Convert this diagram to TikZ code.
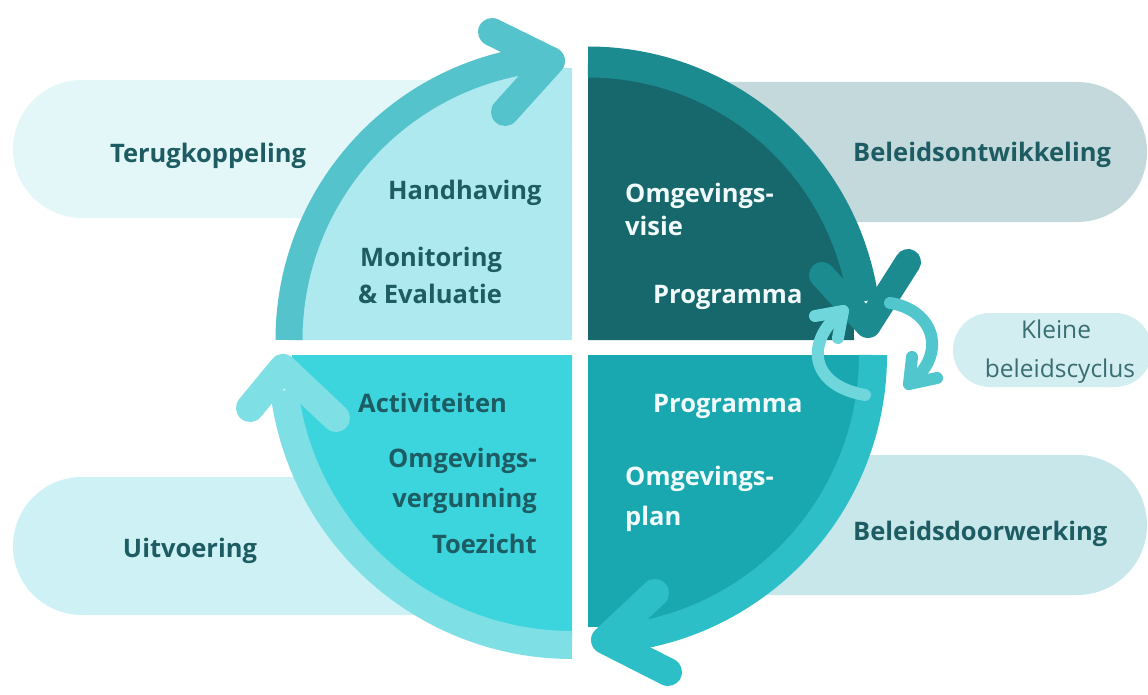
\documentclass[tikz,border=0pt]{standalone}
\usepackage{fontspec}
\setmainfont{Open Sans}
\definecolor{pillA}{HTML}{E3F7F9}
\definecolor{pillB}{HTML}{CDF1F5}
\definecolor{pillC}{HTML}{C4D9DB}
\definecolor{pillD}{HTML}{C8E7EA}
\definecolor{pillE}{HTML}{D2EEF1}
\definecolor{qTLfill}{HTML}{AEE9EF}
\definecolor{qTLband}{HTML}{55C3CB}
\definecolor{qTRfill}{HTML}{16686C}
\definecolor{qTRband}{HTML}{1C8B90}
\definecolor{qBRfill}{HTML}{1AA8B0}
\definecolor{qBRband}{HTML}{2CBFC8}
\definecolor{qBLfill}{HTML}{3CD5DE}
\definecolor{qBLband}{HTML}{7EDFE5}
\definecolor{smA}{HTML}{52C6CD}
\definecolor{smB}{HTML}{6FD6DC}
\definecolor{darktxt}{HTML}{1D5C62}
\definecolor{softtxt}{HTML}{3A6E73}
\definecolor{lighttxt}{HTML}{F2FBFB}
\begin{document}
\begin{tikzpicture}[x=1pt,y=-1pt,
  lbl/.style={font=\bfseries\fontsize{25.5}{30}\selectfont, inner sep=0pt, text=darktxt},
  wlbl/.style={lbl, text=lighttxt},
  small/.style={font=\fontsize{24.5}{29}\selectfont, inner sep=0pt, text=softtxt},
  band/.style={line width=28pt, line cap=butt},
  chev/.style={line width=28pt, line cap=round, line join=round},
  thin/.style={line width=12pt, line cap=round, line join=round}]
\useasboundingbox (0,0) rectangle (1148,695);
\fill[white] (0,0) rectangle (1148,695);
% pills
\fill[pillA, rounded corners=69pt] (13,80) rectangle (572,218);
\fill[pillB, rounded corners=69pt] (13,477) rectangle (572,615);
\fill[pillC, rounded corners=70pt] (588,82) rectangle (1147,222);
\fill[pillD, rounded corners=70pt] (588,455) rectangle (1147,595);
\fill[pillE, rounded corners=37pt] (953,313) rectangle (1152,387);
% corners
\coordinate (C1) at (572,340);
\coordinate (C2) at (588,340);
\coordinate (C3) at (588,355);
\coordinate (C4) at (572,355);
% quadrant fills
\fill[qTLfill] (C1) -- ++(180:272) arc[start angle=180,end angle=270,radius=272] -- cycle;
\fill[qTRfill] (C2) -- ++(270:266) arc[start angle=270,end angle=360,radius=266] -- cycle;
\fill[qBRfill] (C3) -- ++(0:272) arc[start angle=0,end angle=90,radius=272] -- cycle;
\fill[qBLfill] (C4) -- ++(90:280) arc[start angle=90,end angle=180,radius=280] -- cycle;
% bands
\draw[qTLband, band, line width=27pt] (C1) ++(180:283) arc[start angle=180,end angle=262,radius=283];
\draw[qTRband, band, line width=31pt] (C2) ++(270:278) arc[start angle=270,end angle=352,radius=278];
\draw[qBRband, band] (C3) ++(0:285) arc[start angle=0,end angle=83,radius=285];
\draw[qBLband, band] (C4) ++(90:290) arc[start angle=90,end angle=173,radius=290];
% chevron heads
\coordinate (hTL) at (551,61);
\draw[qTLband, chev] (492,32) -- (hTL) -- (505,112);
\coordinate (hTR) at (868,325);
\draw[qTRband, chev, line width=26pt] (822,275) -- (hTR) -- (908,262);
\coordinate (hBR) at (605,640);
\draw[qBRband, chev] (655,593) -- (hBR) -- (668,672);
\coordinate (hBL) at (283,368);
\draw[qBLband, chev] (250,408) -- (hBL) -- (336,418);
% small cycle arrows
\coordinate (sA0) at (890,303);
\coordinate (sA1) at (909,384);
\draw[smA, thin] (sA0) .. controls (935,310) and (948,355) .. (sA1);
\draw[smA, thin] (912,357) -- (sA1) -- (937,378);
\coordinate (sB0) at (865,395);
\coordinate (sB1) at (843,311);
\draw[smB, thin] (sB0) .. controls (808,385) and (805,340) .. (sB1);
\draw[smB, thin] (815,316) -- (sB1) -- (838,338);
% labels outside
\node[lbl, anchor=base] (terug) at (208,163) {Terugkoppeling};
\node[lbl, anchor=base] (uitv) at (190,557) {Uitvoering};
\node[lbl, anchor=base west] (belo) at (853,162) {Beleidsontwikkeling};
\node[lbl, anchor=base west] (beld) at (853,540) {Beleidsdoorwerking};
\node[small, anchor=base] (klein) at (1056,338) {Kleine};
\node[small, anchor=base] (klein2) at (1060,377) {beleidscyclus};
% TL
\node[lbl, anchor=base west] (handh) at (388,200) {Handhaving};
\node[lbl, anchor=base west] (monit) at (360,266) {Monitoring};
\node[lbl, anchor=base west] (evalu) at (358,303) {\& Evaluatie};
% TR
\node[wlbl, anchor=base west] (omgv1) at (625,203) {Omgevings-};
\node[wlbl, anchor=base west] (omgv2) at (625,235) {visie};
\node[wlbl, anchor=base west] (prog1) at (653,303) {Programma};
% BR
\node[wlbl, anchor=base west] (prog2) at (653,412) {Programma};
\node[wlbl, anchor=base west] (omgp1) at (625,485) {Omgevings-};
\node[wlbl, anchor=base west] (omgp2) at (625,525) {plan};
% BL
\node[lbl, anchor=base west] (activ) at (358,412) {Activiteiten};
\node[lbl, anchor=base east] (omgg1) at (537,467) {Omgevings-};
\node[lbl, anchor=base east] (omgg2) at (537,507) {vergunning};
\node[lbl, anchor=base east] (toez) at (537,553) {Toezicht};
\end{tikzpicture}
\end{document}
